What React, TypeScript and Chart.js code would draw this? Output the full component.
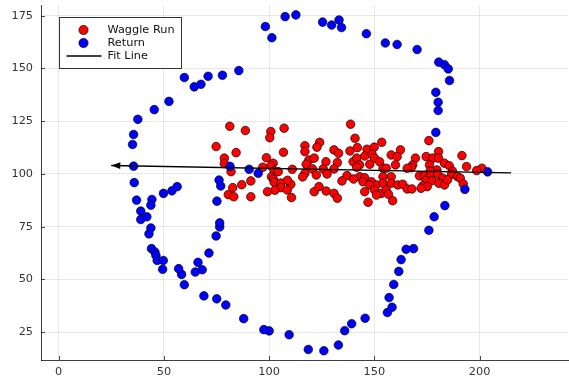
import React, { useEffect, useRef } from "react";
import { Chart, registerables } from "chart.js";

Chart.register(...registerables);

// ---------------- data ----------------
const waggleX = [
  81.3, 88.7, 74.8, 84.3, 78.7, 78.7, 81.9, 87, 91.3, 82.7, 80.6, 83.2, 91.3,
  100.8, 107.1, 100.3, 106.8, 117, 117, 124, 122.7, 118.9, 121.4, 117.6, 98.7, 101.9, 100.8, 97,
  102.4, 104.3, 111, 117, 120.6, 122.4, 115.9, 101.1, 102, 102.4, 105.6, 110.3, 108.7, 105.6,
  102.7, 99.2, 108.6, 110.6, 121.4, 123.7,
  138.7, 140.8, 130.8, 133, 138.4, 141.9, 146.5, 149.9, 153.5, 127, 132.4, 139.9, 141.6, 145.4,
  148.9, 150.1, 152.5, 147.8, 143, 125.7, 130.8, 141.6, 154.1, 127.5, 137, 143, 145.4, 154.1,
  140.1, 134.6, 144.6, 148.6, 151, 147.8, 154.1, 150.1, 145.4, 153.3, 127.1, 130.8, 132.4, 151, 147,
  175.9, 180.5, 158, 162.4, 160.8, 169.5, 174.6, 177.8, 180.5, 168.2, 167.5, 165.6, 160, 176.2,
  179.7, 183.3, 155.6, 176.5, 171.4, 173.8, 176.7, 180.1, 182.5, 158, 174.6, 177.3, 180.6, 183.3,
  173, 175.1, 172.2, 158, 161.1, 163.5, 165.6, 167.8, 155.6, 156.7, 158.7,
  191.6, 193.8, 185.6, 187.1, 186.7, 201.1, 198.6, 189.5, 190.8, 184.8, 192.2,
];
const waggleY = [
  122.6, 120.6, 113, 110.1, 107.5, 104.9, 101.1, 94.9, 96.7, 93.5, 90.2, 89.2, 89.2,
  120.1, 121.7, 117.2, 110.3, 113.4, 110.6, 115, 112.7, 106.6, 107.5, 104.6, 107.7, 105.1, 103.9, 103.2,
  101.4, 101.1, 102.2, 100.3, 102.4, 99.5, 98.6, 98.7, 97.6, 96.1, 95.7, 95.1, 97, 93.5,
  92.3, 91.6, 92.4, 88.8, 91.6, 94,
  123.6, 116.9, 111.4, 109.8, 110.9, 112.5, 111.7, 112.7, 115, 105.8, 105.4, 105.8, 107.5, 108.5,
  109.3, 107.5, 105.8, 104.6, 104.3, 102.4, 102.4, 103.2, 102.7, 100, 99.2, 98.7, 98.2, 98.7,
  97.6, 96.7, 96.3, 96.3, 94.8, 94.8, 95.6, 92.4, 91.6, 90.8, 91.9, 90.8, 88.5, 90, 86.6,
  115.8, 110.6, 109, 111.4, 108.2, 107.5, 108.2, 107.5, 107.5, 104.3, 103, 102.7, 104.3, 104.3,
  101.9, 105.1, 102.7, 101.4, 99.1, 99.1, 99.1, 99.9, 98, 98.7, 97, 96.8, 95.6, 94.8,
  94.4, 94, 93.2, 95.6, 94.8, 95.1, 92.9, 92.9, 92.4, 90.4, 87.3,
  108.7, 103.5, 103.9, 101.4, 99.9, 102.7, 101.6, 98.7, 98, 97.2, 95.3,
];

const returnX = [
  107.6, 112.7, 98.2, 101.3, 125.4, 129.7, 133.2, 134.4, 146.2, 155.2, 160.8, 170.3, 180.6, 183.3,
  185.1, 185.7, 179.2, 180.3, 180.3, 179.2, 203.8, 193, 183.5, 178.4, 175.9, 168.6, 165.1, 162.7,
  161.6, 159.2, 157, 158.4, 156.2, 145.6, 139.2, 135.9, 132.9, 126, 118.6, 109.5, 100, 97.5, 87.9,
  79.4, 75.1, 69, 59.7, 58.4, 57, 64.9, 68.2, 66.2, 71.4, 74.8, 76.5, 76.5, 75.2, 76.2, 77, 81.4,
  90.5, 94.8, 49.8, 53.8, 56.3, 37, 39, 39, 41.9, 44.3, 43.8, 43.8, 42.9, 44.1, 45.7, 46.2, 46.8,
  49.7, 49.4, 35.9, 35.6, 35.1, 35.6, 37.6, 45.4, 52.4, 59.7, 64.4, 67.6, 71, 77.8, 85.6,
];
const returnY = [
  174.6, 175.4, 169.9, 164.6, 172, 170.6, 173, 169.4, 166.5, 162.1, 161.4, 159, 153, 151.8,
  149.8, 144.3, 138.7, 134, 130.1, 119.7, 101, 92.7, 85, 79.7, 73.3, 64.6, 64.3, 59.4,
  53.8, 47.6, 41.4, 36.8, 34.3, 31.6, 29, 25.7, 18.9, 16.2, 16.8, 23.8, 25.6, 26.2, 31.4,
  37.9, 40.8, 42.2, 47.5, 52.4, 55.1, 53.5, 54.6, 58.1, 62.5, 70.6, 74.9, 76.8, 87.1, 97.1, 94.3, 103.6,
  102.2, 100.3, 90.8, 92, 94, 87.6, 82.4, 78.4, 79.7, 87.9, 85.2, 74.4, 71.6, 64.6, 63, 61.4, 59,
  59, 54.8, 95.9, 103.7, 114, 118.7, 125.9, 130.5, 134.4, 145.7, 141.3, 142.5, 146.3, 146.8, 149,
];

const fitX = [215, 25];
const fitY = [100.5, 104];

const xTicks = [0, 50, 100, 150, 200];
const yTicks = [25, 50, 75, 100, 125, 150, 175];
const seriesNames = ["Waggle Run", "Return", "Fit Line"];

// ---------------- styling ----------------
const FONT = "'DejaVu Sans', sans-serif";
const RED = "#ff0000";
const BLUE = "#0000ff";

const toPts = (xs: number[], ys: number[]) => xs.map((x, i) => ({ x, y: ys[i] }));

const arrowPlugin = {
  id: "fitArrow",
  afterDatasetsDraw(chart: any) {
    const meta = chart.getDatasetMeta(0);
    if (!meta || !meta.data || meta.data.length < 2) return;
    const p0 = meta.data[meta.data.length - 2];
    const p1 = meta.data[meta.data.length - 1];
    const ang = Math.atan2(p1.y - p0.y, p1.x - p0.x);
    const len = 9;
    const half = 3.4;
    const ctx = chart.ctx;
    ctx.save();
    ctx.fillStyle = "#000";
    ctx.beginPath();
    ctx.moveTo(p1.x, p1.y);
    ctx.lineTo(
      p1.x - len * Math.cos(ang) + half * Math.sin(ang),
      p1.y - len * Math.sin(ang) - half * Math.cos(ang)
    );
    ctx.lineTo(
      p1.x - len * Math.cos(ang) - half * Math.sin(ang),
      p1.y - len * Math.sin(ang) + half * Math.cos(ang)
    );
    ctx.closePath();
    ctx.fill();
    ctx.restore();
  },
};

const innerTicksPlugin = {
  id: "innerTicks",
  afterDraw(chart: any) {
    const { ctx, chartArea, scales } = chart;
    ctx.save();
    ctx.strokeStyle = "rgba(0,0,0,0.7)";
    ctx.lineWidth = 1;
    ctx.beginPath();
    xTicks.forEach((v) => {
      const px = Math.round(scales.x.getPixelForValue(v)) + 0.5;
      ctx.moveTo(px, chartArea.bottom);
      ctx.lineTo(px, chartArea.bottom - 4);
    });
    yTicks.forEach((v) => {
      const py = Math.round(scales.y.getPixelForValue(v)) + 0.5;
      ctx.moveTo(chartArea.left, py);
      ctx.lineTo(chartArea.left + 4, py);
    });
    ctx.stroke();
    ctx.restore();
  },
};

const boxLegendPlugin = {
  id: "boxLegend",
  afterDraw(chart: any) {
    const { ctx, chartArea } = chart;
    const x0 = Math.round(chartArea.left + 18) + 0.5;
    const y0 = Math.round(chartArea.top + 12) + 0.5;
    const w = 122;
    const h = 51;
    const rowH = 13;
    ctx.save();
    ctx.fillStyle = "#ffffff";
    ctx.fillRect(x0, y0, w, h);
    ctx.strokeStyle = "#333";
    ctx.lineWidth = 1;
    ctx.strokeRect(x0, y0, w, h);

    const mx = x0 + 24;
    const tx = x0 + 48;
    const rows = [y0 + 12.5, y0 + 12.5 + rowH, y0 + 12.5 + 2 * rowH];
    const cols = [RED, BLUE];
    for (let i = 0; i < 2; i++) {
      ctx.beginPath();
      ctx.arc(mx, rows[i], 4.6, 0, Math.PI * 2);
      ctx.fillStyle = cols[i];
      ctx.fill();
      ctx.strokeStyle = "rgba(0,0,0,0.85)";
      ctx.lineWidth = 0.8;
      ctx.stroke();
    }
    ctx.beginPath();
    ctx.moveTo(x0 + 7, rows[2]);
    ctx.lineTo(x0 + 42, rows[2]);
    ctx.strokeStyle = "#000";
    ctx.lineWidth = 1.3;
    ctx.stroke();

    ctx.fillStyle = "#111";
    ctx.font = `11.3px ${FONT}`;
    ctx.textBaseline = "middle";
    ctx.textAlign = "left";
    seriesNames.forEach((n, i) => ctx.fillText(n, tx, rows[i] + 0.5));
    ctx.restore();
  },
};

export default function App() {
  const canvasRef = useRef<HTMLCanvasElement | null>(null);

  useEffect(() => {
    if (!canvasRef.current) return;
    const chart = new Chart(canvasRef.current, {
      type: "scatter",
      data: {
        datasets: [
          {
            label: seriesNames[2],
            data: toPts(fitX, fitY),
            showLine: true,
            borderColor: "#000",
            borderWidth: 1.4,
            pointRadius: 0,
            order: 0,
          } as any,
          {
            label: seriesNames[1],
            data: toPts(returnX, returnY),
            backgroundColor: BLUE,
            borderColor: "rgba(0,0,0,0.85)",
            borderWidth: 0.8,
            pointRadius: 4.3,
            order: 1,
          },
          {
            label: seriesNames[0],
            data: toPts(waggleX, waggleY),
            backgroundColor: RED,
            borderColor: "rgba(0,0,0,0.85)",
            borderWidth: 0.8,
            pointRadius: 4.3,
            order: 2,
          },
        ],
      },
      options: {
        animation: false,
        responsive: false,
        devicePixelRatio: 1,
        layout: { autoPadding: false, padding: { top: 5, right: 1, left: 0, bottom: 0 } },
        plugins: {
          legend: { display: false },
          tooltip: { enabled: false },
        },
        scales: {
          x: {
            type: "linear",
            min: -8.4,
            max: 242,
            afterFit: (s: any) => {
              s.height = 20;
              s.paddingLeft = 0;
              s.paddingRight = 0;
            },
            afterBuildTicks: (s: any) => {
              s.ticks = xTicks.map((v) => ({ value: v }));
            },
            grid: {
              color: "rgba(0,0,0,0.09)",
              lineWidth: 1,
              drawTicks: false,
            },
            border: { display: true, color: "rgba(0,0,0,0.75)", width: 1 },
            ticks: {
              padding: 5,
              color: "#333",
              font: { family: FONT, size: 11.3 },
              maxRotation: 0,
              callback: (v: any) => String(v),
            },
          },
          y: {
            type: "linear",
            min: 11.8,
            max: 180.1,
            afterFit: (s: any) => {
              s.width = 41;
              s.paddingTop = 0;
              s.paddingBottom = 0;
            },
            afterBuildTicks: (s: any) => {
              s.ticks = yTicks.map((v) => ({ value: v }));
            },
            grid: {
              color: "rgba(0,0,0,0.09)",
              lineWidth: 1,
              drawTicks: false,
            },
            border: { display: true, color: "rgba(0,0,0,0.75)", width: 1 },
            ticks: {
              padding: 8,
              color: "#333",
              font: { family: FONT, size: 11.3 },
              callback: (v: any) => String(v),
            },
          },
        },
      },
      plugins: [arrowPlugin, innerTicksPlugin, boxLegendPlugin],
    });
    return () => chart.destroy();
  }, []);

  return (
    <div
      style={{
        position: "fixed",
        left: 0,
        top: 0,
        width: 569,
        height: 380,
        background: "#fff",
      }}
    >
      <canvas
        ref={canvasRef}
        width={569}
        height={380}
        style={{ display: "block", width: 569, height: 380 }}
      />
    </div>
  );
}
